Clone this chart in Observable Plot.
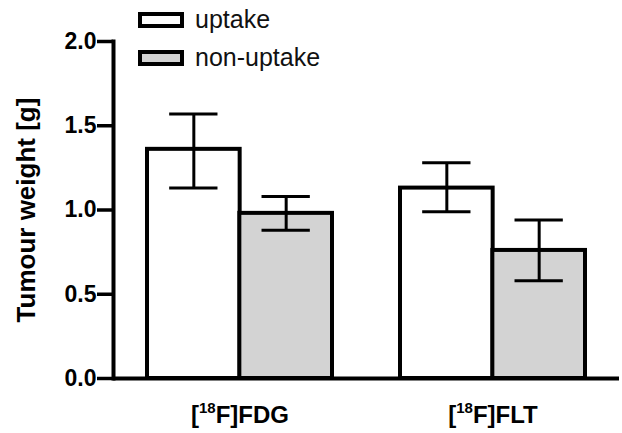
<!DOCTYPE html>
<html>
<head>
<meta charset="utf-8">
<script src="https://cdn.jsdelivr.net/npm/d3@7"></script>
<script src="https://cdn.jsdelivr.net/npm/@observablehq/plot@0.6"></script>
<style>
  html, body { margin: 0; padding: 0; background: #fff; }
  #wrap { position: relative; width: 622px; height: 433px; font-family: "Liberation Sans", Arial, Helvetica, sans-serif; }
  .lg-box { position: absolute; box-sizing: border-box; border: 4px solid #000; width: 46px; height: 16px; }
  .lg-text { position: absolute; font-size: 25px; line-height: 25px; color: #111; white-space: nowrap; }
</style>
</head>
<body>
<div id="wrap"></div>
<script>
// ---- data ----
const groups = ["FDG", "FLT"];
const groupLabels = [["18", "F]FDG"], ["18", "F]FLT"]];
const series = ["uptake", "non-uptake"];
const fills = ["#ffffff", "#d3d3d3"];
const meanValues = [[1.36, 0.98], [1.13, 0.76]];   // [group][series]
const lowValues  = [[1.13, 0.88], [0.99, 0.58]];
const highValues = [[1.57, 1.08], [1.28, 0.94]];
const yTicks = [0, 0.5, 1.0, 1.5, 2.0];
const yLabel = "Tumour weight [g]";

const rows = [];
groups.forEach((g, gi) => series.forEach((s, si) => rows.push({
  group: g, series: s, si,
  mean: meanValues[gi][si], low: lowValues[gi][si], high: highValues[gi][si]
})));

// ---- layout ----
const W = 622, H = 433;
const mL = 113, mR = 3, mT = 41, mB = 55;
const padInner = 0.27, padOuter = 0.135;
const bw = d3.scaleBand().domain(groups).range([mL, W - mR])
  .paddingInner(padInner).paddingOuter(padOuter).bandwidth();
const half = bw / 2;
const capW = 48;
const font = "Liberation Sans, Arial, Helvetica, sans-serif";

const marks = [];
series.forEach((s, si) => {
  const data = rows.filter(r => r.si === si);
  marks.push(Plot.barY(data, {
    x: "group", y: "mean", fill: fills[si], stroke: "#000", strokeWidth: 4,
    insetLeft: si === 0 ? 0 : half, insetRight: si === 0 ? half : 0
  }));
});
series.forEach((s, si) => {
  const data = rows.filter(r => r.si === si);
  const dx = si === 0 ? -half / 2 : half / 2;
  marks.push(Plot.ruleX(data, { x: "group", y1: "low", y2: "high", stroke: "#000", strokeWidth: 3, dx }));
  marks.push(Plot.tickY(data, { x: "group", y: "low", stroke: "#000", strokeWidth: 3, inset: (bw - capW) / 2, dx }));
  marks.push(Plot.tickY(data, { x: "group", y: "high", stroke: "#000", strokeWidth: 3, inset: (bw - capW) / 2, dx }));
});
marks.push(Plot.frame({ anchor: "left", stroke: "#000", strokeWidth: 4 }));
marks.push(Plot.ruleY([0], { stroke: "#000", strokeWidth: 4 }));
marks.push(Plot.axisY({
  ticks: yTicks, tickFormat: d3.format(".1f"), tickSize: 16, tickPadding: 1,
  strokeWidth: 3.5, fontSize: 23, fontWeight: "bold", label: null
}));
marks.push(Plot.axisX({
  tickSize: 0, tickPadding: 27, fontSize: 24, fontWeight: "bold", label: null
}));
marks.push(Plot.text([yLabel], {
  frameAnchor: "left", textAnchor: "middle", rotate: -90, dx: -87, fontSize: 26, fontWeight: "bold",
  lineAnchor: "middle", fill: "#000"
}));

const plot = Plot.plot({
  width: W, height: H,
  marginLeft: mL, marginRight: mR, marginTop: mT, marginBottom: mB,
  style: { fontFamily: font, color: "#000", background: "transparent", overflow: "visible" },
  x: { type: "band", domain: groups, paddingInner: padInner, paddingOuter: padOuter, label: null },
  y: { domain: [0, 2], label: null },
  marks
});

// superscripts for the group labels
d3.select(plot).selectAll('g[aria-label="x-axis tick label"] text').each(function(d, i) {
  const t = d3.select(this);
  const idx = groups.indexOf(d);
  const parts = groupLabels[idx >= 0 ? idx : i];
  t.text(null);
  t.append("tspan").text("[");
  t.append("tspan").attr("font-size", 15).attr("dy", -10).text(parts[0]);
  t.append("tspan").attr("dy", 10).text(parts[1]);
});

const wrap = document.getElementById("wrap");
wrap.appendChild(plot);

// legend
const lgLeft = 138, lgTops = [12, 50], textLeft = 195;
series.forEach((s, si) => {
  const box = document.createElement("div");
  box.className = "lg-box";
  box.style.left = lgLeft + "px";
  box.style.top = lgTops[si] + "px";
  box.style.background = fills[si];
  wrap.appendChild(box);
  const tx = document.createElement("div");
  tx.className = "lg-text";
  tx.style.left = textLeft + "px";
  tx.style.top = (lgTops[si] - 5) + "px";
  tx.textContent = s;
  wrap.appendChild(tx);
});
</script>
</body>
</html>
